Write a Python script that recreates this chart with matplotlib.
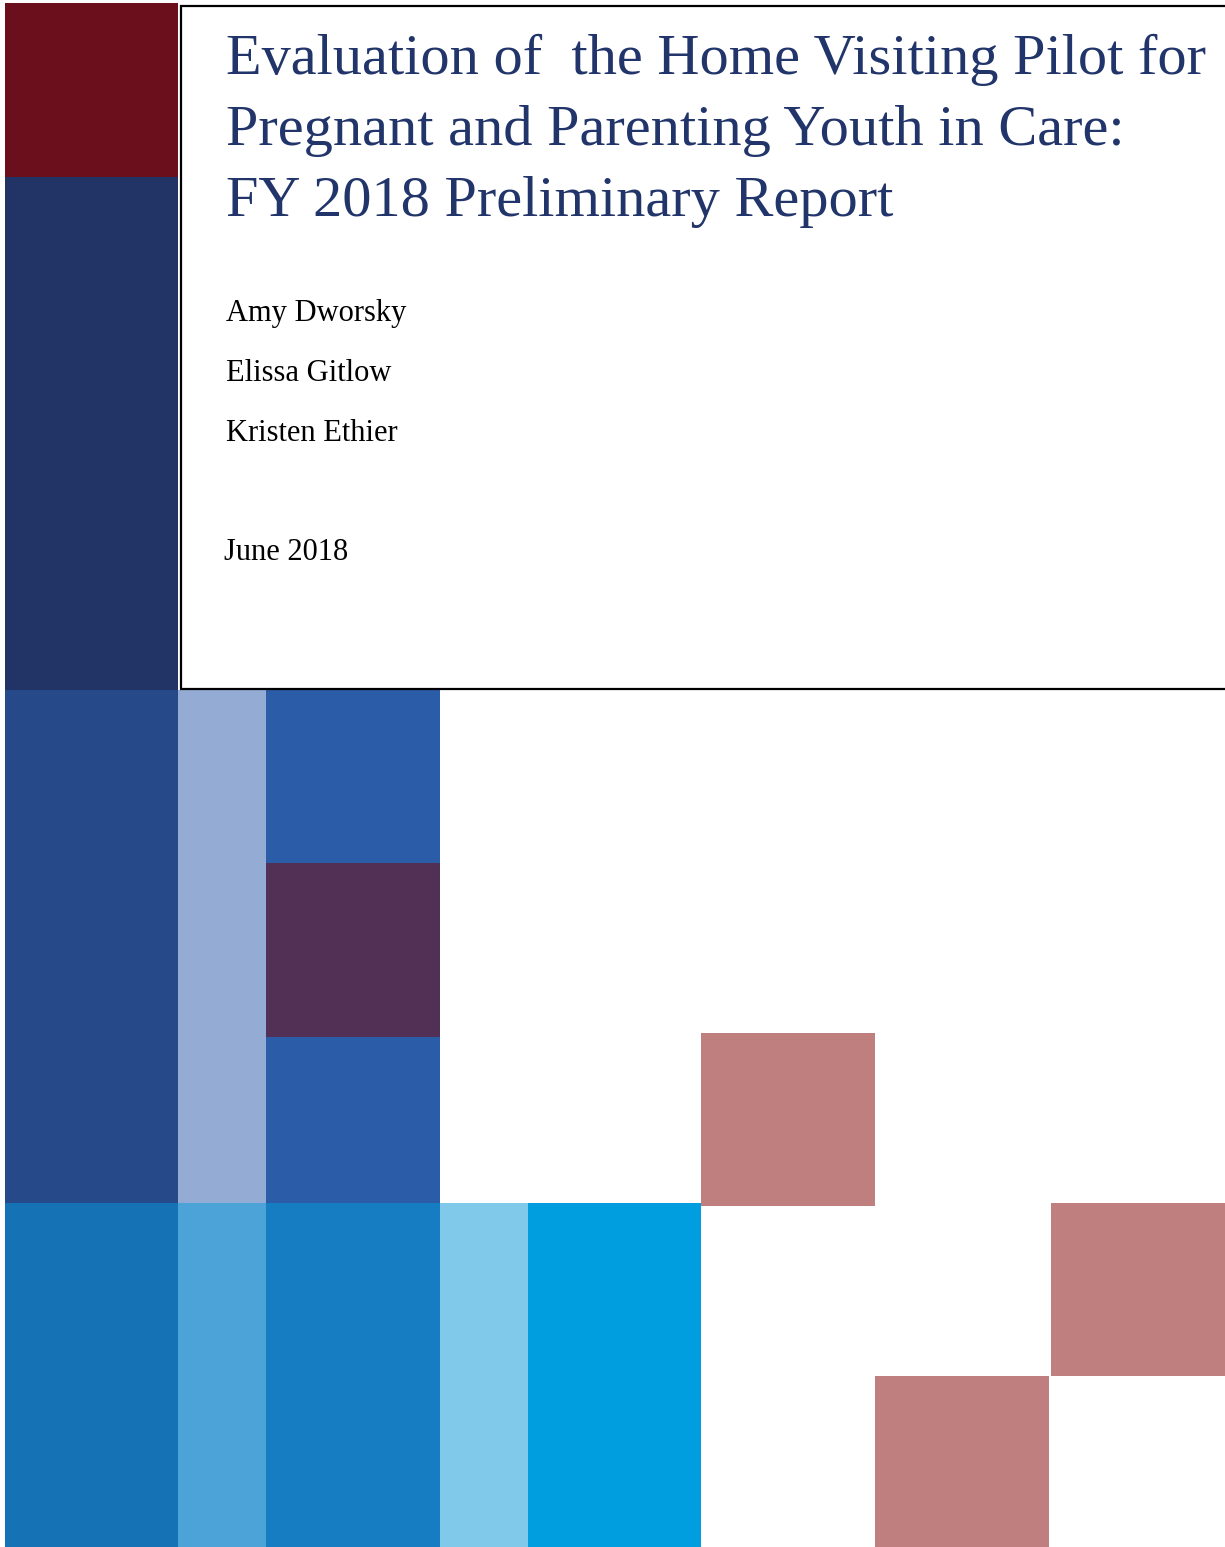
"""
Report cover: Home Visiting Pilot evaluation, FY 2018 preliminary report
"""

import matplotlib
matplotlib.use("Agg")
import matplotlib.pyplot as plt
import matplotlib.patches as mpatches

# ── Content ───────────────────────────────────────────────────────────────────
TITLE_LINES = ["Evaluation of  the Home Visiting Pilot for",
               "Pregnant and Parenting Youth in Care:",
               "FY 2018 Preliminary Report"]
AUTHORS = ["Amy Dworsky", "Elissa Gitlow", "Kristen Ethier"]
DATE = "June 2018"

# Tile mosaic: (left, right, top, bottom) in page pixels, and colour
TILE_COLORS = ["#6a0f1b", "#223366", "#26498a", "#94acd3", "#2b5ca8",
               "#522f55", "#2b5ca8", "#1572b5", "#4ba3d7", "#167dc2",
               "#80c9ea", "#009ddf", "#bf7f7e", "#bf7f7e", "#bf7f7e"]
TILE_X0 = [5, 5, 5, 178, 266, 266, 266, 5, 178, 266, 440, 528, 701, 1051, 875]
TILE_X1 = [178, 178, 178, 266, 440, 440, 440, 178, 266, 440, 528, 701, 875, 1225, 1049]
TILE_Y0 = [3, 177, 690, 690, 690, 863, 1037, 1203, 1203, 1203, 1203, 1203, 1033, 1203, 1376]
TILE_Y1 = [177, 690, 1203, 1203, 863, 1037, 1203, 1547, 1547, 1547, 1547, 1547, 1206, 1376, 1547]

NAVY_TEXT = "#22356b"
SERIF = ["Liberation Serif", "DejaVu Serif"]

# ── Page ──────────────────────────────────────────────────────────────────────
W, H = 1225, 1547
fig = plt.figure(figsize=(W / 100, H / 100), dpi=100, facecolor="white")
ax = fig.add_axes([0, 0, 1, 1])
ax.set_xlim(0, W)
ax.set_ylim(H, 0)
ax.axis("off")

for c, x0, x1, y0, y1 in zip(TILE_COLORS, TILE_X0, TILE_X1, TILE_Y0, TILE_Y1):
    ax.add_patch(mpatches.Rectangle((x0, y0), x1 - x0, y1 - y0,
                                    facecolor=c, edgecolor="none", zorder=1))

# white title box with black frame
ax.add_patch(mpatches.Rectangle((180.5, 5.5), 1060, 683,
                                facecolor="white", edgecolor="black",
                                linewidth=1.6, zorder=2))

# ── Text ──────────────────────────────────────────────────────────────────────
for i, line in enumerate(TITLE_LINES):
    ax.text(226, 74 + i * 71, line, fontsize=42, color=NAVY_TEXT,
            family=SERIF, ha="left", va="baseline", zorder=3)

for i, name in enumerate(AUTHORS):
    ax.text(226, 321 + i * 60, name, fontsize=22, color="black",
            family=SERIF, ha="left", va="baseline", zorder=3)

ax.text(224, 560, DATE, fontsize=22, color="black",
        family=SERIF, ha="left", va="baseline", zorder=3)

fig.savefig("out.png", dpi=100, facecolor="white")
